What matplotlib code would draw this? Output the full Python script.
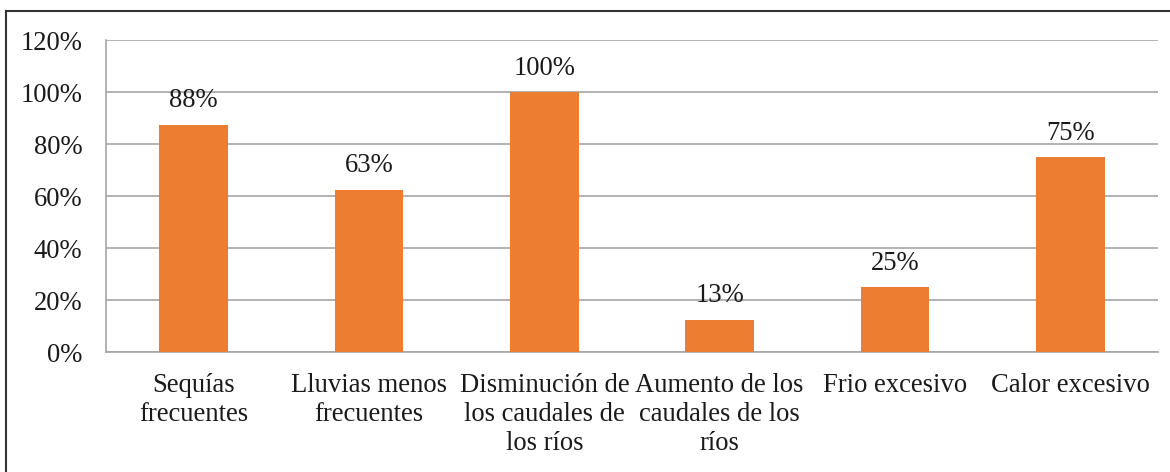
import matplotlib.pyplot as plt
from matplotlib.lines import Line2D
from matplotlib.ticker import PercentFormatter

# Datos del gráfico
categorias = ["Sequías\nfrecuentes", "Lluvias menos\nfrecuentes",
              "Disminución de\nlos caudales de\nlos ríos",
              "Aumento de los\ncaudales de los\nríos",
              "Frio excesivo", "Calor excesivo"]
valores = [87.5, 62.5, 100, 12.5, 25, 75]
etiquetas = ["88%", "63%", "100%", "13%", "25%", "75%"]

plt.rcParams['font.family'] = ['Liberation Serif', 'DejaVu Serif']
fs = 19.2

fig = plt.figure(figsize=(11.7, 4.72), dpi=100)
ax = fig.add_axes([106/1170, 1-352/472, (1158-106)/1170, (352-40)/472])

x = range(len(categorias))
bars = ax.bar(x, valores, width=0.39, color="#ED7D31", zorder=3)
for b, t in zip(bars, etiquetas):
    ax.text(b.get_x() + b.get_width()/2, b.get_height() + 4.3, t,
            ha="center", va="bottom", fontsize=fs, color="#1a1a1a")

ax.set_xlim(-0.5, len(categorias) - 0.5)
ax.set_ylim(0, 120)
ax.set_yticks(range(0, 121, 20))
ax.yaxis.set_major_formatter(PercentFormatter(decimals=0))
ax.set_xticks(list(x))
ax.set_xticklabels(categorias, fontsize=fs, linespacing=1.22, color="#1a1a1a")
ax.tick_params(axis="y", labelsize=fs, labelcolor="#1a1a1a", length=0, pad=17)
ax.tick_params(axis="x", length=0, pad=15)
ax.grid(axis="y", color="#A6A6A6", linewidth=1.2, zorder=0)
for s in ["top", "right"]:
    ax.spines[s].set_visible(False)
ax.spines["left"].set_color("#A6A6A6")
ax.spines["bottom"].set_color("#A6A6A6")
ax.spines["left"].set_linewidth(1.2)
ax.spines["bottom"].set_linewidth(1.2)

# Marco exterior (solo izquierda y arriba visibles)
fig.add_artist(Line2D([6/1170, 6/1170], [0, 1-11/472], color="#333333", linewidth=1.5))
fig.add_artist(Line2D([6/1170, 1], [1-11/472, 1-11/472], color="#333333", linewidth=1.5))

fig.savefig("out.png", dpi=100)
